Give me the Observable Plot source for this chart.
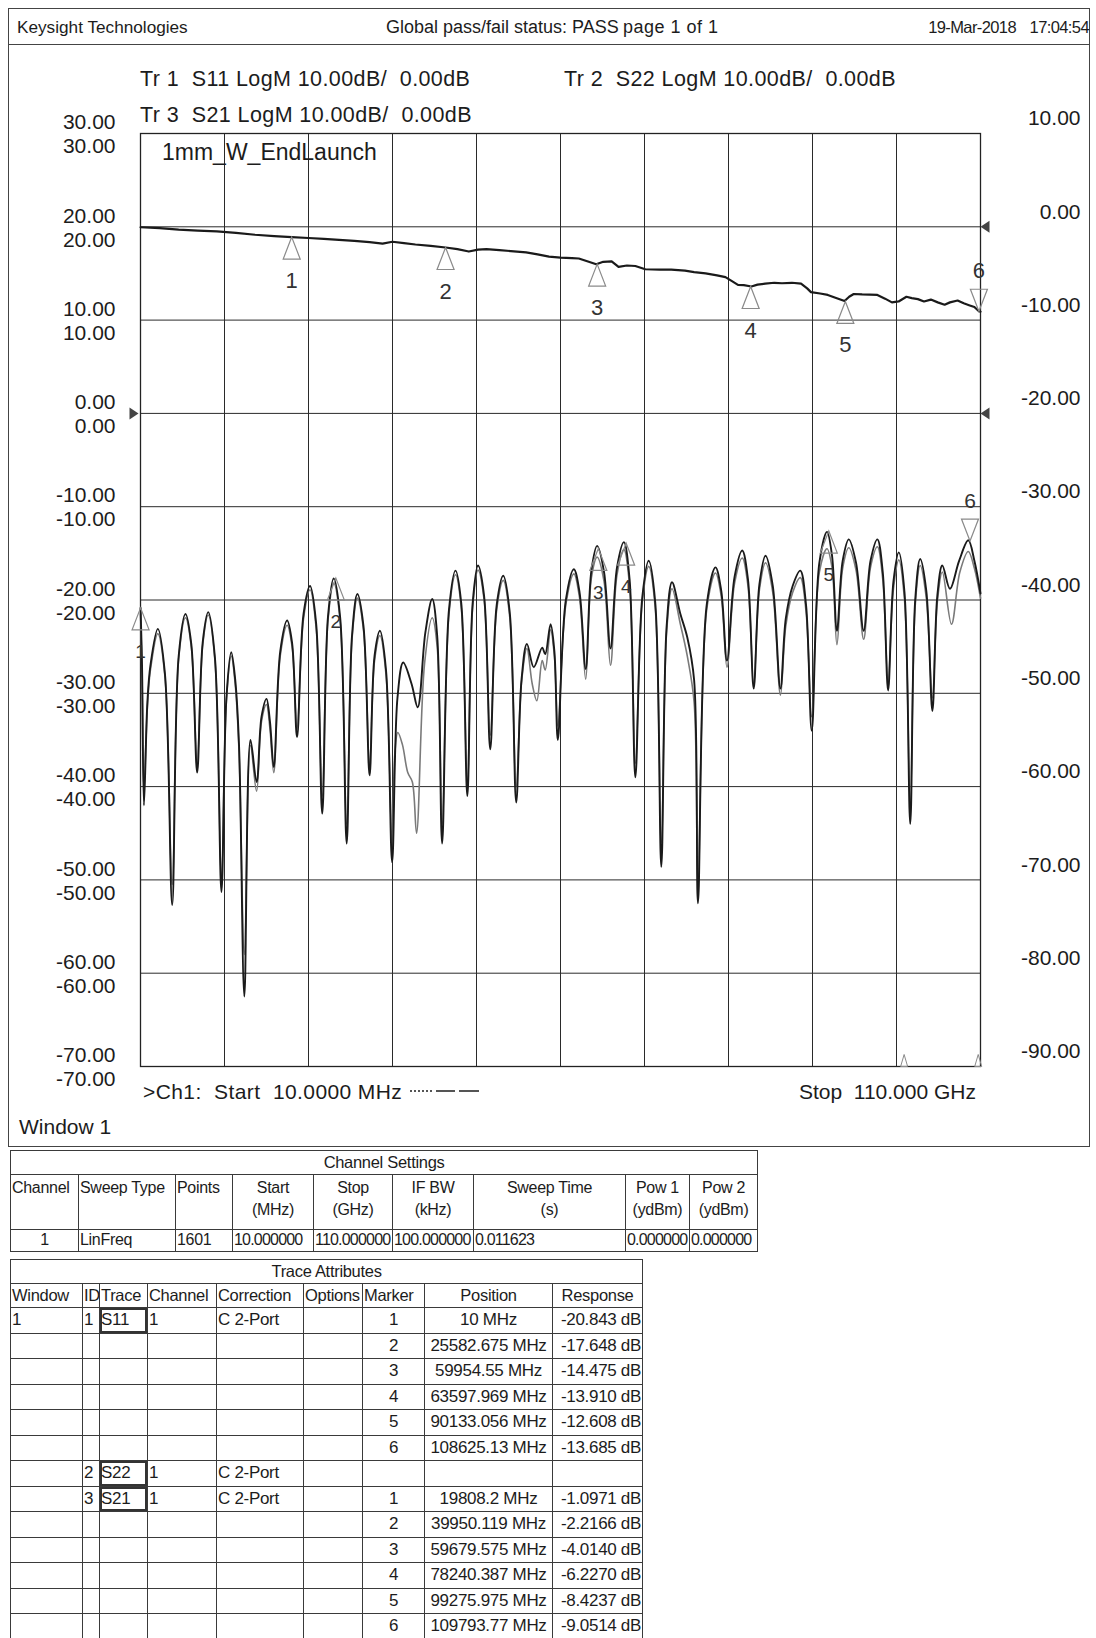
<!DOCTYPE html>
<html><head><meta charset="utf-8">
<script src="https://cdn.jsdelivr.net/npm/d3@7"></script>
<script src="https://cdn.jsdelivr.net/npm/@observablehq/plot@0.6"></script>
<style>
body{margin:0;background:#fff;}
#page{position:relative;width:1096px;height:1638px;overflow:hidden;font-family:"Liberation Sans",Arial,sans-serif;color:#1c1c1c;background:#fff;}
.t{position:absolute;white-space:nowrap;line-height:1;}
table.tb{border-collapse:collapse;table-layout:fixed;position:absolute;font-size:16.5px;color:#1c1c1c;letter-spacing:-0.3px;}
table.tb td{border:1px solid #3a3a3a;padding:0 1px;overflow:hidden;white-space:nowrap;line-height:1.15;}
</style></head><body><div id="page"></div><script>
// ---------------- data ----------------
const leftTicks  = [30, 20, 10, 0, -10, -20, -30, -40, -50, -60, -70];   // Tr1 / Tr2 scale (dB)
const rightTicks = [10, 0, -10, -20, -30, -40, -50, -60, -70, -80, -90];  // Tr3 scale (dB)
const xGrid = [0, 11, 22, 33, 44, 55, 66, 77, 88, 99, 110];               // GHz, 10 divisions

// S11 (GHz, dB)
const s11 = [
[0.01,-20.84],[0.2,-27],[0.45,-42.0],[0.9,-31],[1.3,-27.0],[2.27,-23.1],[3.2,-27.9],[4.15,-52.7],
[5.0,-26.0],[5.89,-21.5],[6.65,-24.7],[7.42,-38.5],[8.15,-24.5],[8.87,-21.3],[9.75,-26.2],[10.6,-51.3],
[11.25,-30.5],[11.88,-25.6],[12.4,-28.5],[12.9,-35.5],[13.6,-62.5],[14.4,-35.0],[15.2,-39.5],[15.85,-32.5],[16.5,-30.6],[16.95,-33.0],[17.45,-37.9],
[18.3,-25.5],[19.2,-22.2],[19.85,-24.6],[20.5,-34.7],[21.35,-21.5],[22.2,-18.5],[23.0,-22.5],[23.8,-42.9],
[24.55,-21.8],[25.3,-17.7],[26.15,-21.9],[27.0,-46.1],[27.7,-23.8],[28.4,-19.35],[29.2,-22.8],[30.0,-38.8],
[30.65,-26.0],[31.35,-23.3],[32.15,-27.5],[32.95,-48.1],[33.65,-30.5],[34.4,-26.7],[35.5,-29.0],[36.3,-31.5],
[37.3,-23.5],[38.2,-19.9],[38.85,-23.8],[39.5,-46.1],[40.4,-21.0],[41.25,-16.85],[42.0,-20.3],[42.8,-41.0],
[43.5,-20.3],[44.2,-16.3],[45.0,-19.6],[45.8,-36.0],[46.65,-20.5],[47.5,-17.4],[48.35,-21.3],[49.2,-41.7],
[49.9,-28.5],[50.6,-24.7],[51.5,-27.2],[52.6,-25.1],[53.0,-25.8],[53.7,-22.6],[54.2,-25.5],[54.65,-35.0],
[55.7,-20.0],[56.75,-16.7],[57.5,-19.2],[58.3,-27.4],[59.05,-16.8],[59.8,-14.2],[60.7,-17.0],[61.55,-25.2],
[62.4,-16.5],[63.3,-13.8],[64.05,-17.8],[64.8,-39.0],[65.7,-19.8],[66.55,-15.8],[67.4,-20.2],[68.2,-48.6],
[68.9,-22.8],[69.6,-18.1],[70.7,-21.5],[71.6,-24.0],[72.5,-28.6],[73.0,-52.5],[74.15,-20.5],[75.3,-16.5],[76.05,-19.0],[76.8,-26.5],
[77.8,-17.5],[78.8,-14.7],[79.55,-17.8],[80.3,-29.5],[81.05,-18.3],[81.85,-15.25],[82.8,-18.5],[83.8,-29.5],
[84.5,-22.0],[85.4,-18.5],[86.4,-16.85],[87.15,-20.5],[87.9,-34.0],[88.9,-16.0],[89.9,-12.7],[90.55,-15.2],[91.2,-23.3],
[91.95,-15.8],[92.75,-13.5],[93.7,-16.0],[94.7,-23.3],[95.6,-15.8],[96.5,-13.5],[97.2,-17.0],[97.9,-29.7],
[98.6,-18.0],[99.3,-14.9],[100.05,-19.2],[100.8,-44.0],[101.45,-20.0],[102.1,-15.6],[102.9,-19.0],[103.7,-31.9],
[104.35,-19.5],[105.0,-16.3],[106.0,-18.8],[107.2,-15.8],[108.4,-13.6],[109.2,-15.8],[110,-19.3]
];

// S22 (GHz, dB) – mostly overlapping S11, lighter trace
const s22 = [
[0.01,-21.5],[0.2,-28],[0.45,-40.5],[0.9,-31.5],[1.3,-27.5],[2.27,-23.6],[3.2,-28.2],[4.15,-50.5],
[5.0,-26.3],[5.89,-21.9],[6.65,-25.0],[7.42,-37.5],[8.15,-24.8],[8.87,-21.6],[9.75,-26.5],[10.6,-49.5],
[11.25,-30.8],[11.88,-26.0],[12.4,-29.0],[12.9,-36.2],[13.6,-58.0],[14.4,-35.6],[15.2,-40.5],[15.85,-33.0],[16.5,-31.2],[16.95,-33.8],[17.45,-38.5],
[18.3,-26.0],[19.2,-22.7],[19.85,-25.0],[20.5,-33.8],[21.35,-22.0],[22.2,-18.9],[23.0,-23.0],[23.8,-41.0],
[24.55,-22.2],[25.3,-18.2],[26.15,-22.3],[27.0,-44.0],[27.7,-24.2],[28.4,-19.8],[29.2,-23.2],[30.0,-37.5],
[30.65,-26.5],[31.35,-23.8],[32.15,-28.0],[32.95,-46.5],[33.3,-36.5],[33.7,-34.2],[34.3,-35.5],[35.0,-38.5],[35.6,-39.5],[36.15,-45.0],
[37.2,-26.8],[38.2,-21.9],[38.85,-25.0],[39.5,-44.0],[40.4,-21.5],[41.25,-17.3],[42.0,-20.8],[42.8,-39.5],
[43.5,-20.8],[44.2,-16.8],[45.0,-20.0],[45.8,-34.5],[46.65,-21.0],[47.5,-17.9],[48.35,-21.8],[49.2,-40.0],
[49.9,-28.8],[50.6,-25.2],[51.3,-29.0],[51.9,-30.8],[52.6,-26.5],[53.0,-27.5],[53.7,-23.2],[54.2,-26.0],[54.65,-33.5],
[55.7,-20.5],[56.75,-17.2],[57.5,-19.8],[58.3,-28.5],[59.05,-17.6],[59.8,-15.4],[60.7,-18.0],[61.55,-27.0],
[62.4,-17.3],[63.3,-14.6],[64.05,-18.5],[64.8,-37.5],[65.7,-20.3],[66.55,-16.4],[67.4,-20.8],[68.2,-46.0],
[68.9,-23.4],[69.6,-18.8],[70.7,-22.6],[71.6,-26.0],[72.5,-31.0],[73.0,-50.5],[74.15,-21.0],[75.3,-17.1],[76.05,-19.6],[76.8,-27.2],
[77.8,-18.2],[78.8,-15.5],[79.55,-18.5],[80.3,-29.0],[81.05,-18.9],[81.85,-16.0],[82.8,-19.2],[83.8,-30.2],
[84.5,-22.8],[85.4,-19.2],[86.4,-17.6],[87.15,-21.2],[87.9,-32.5],[88.9,-17.0],[89.9,-14.5],[90.55,-16.5],[91.2,-24.8],
[91.95,-16.6],[92.75,-14.4],[93.7,-16.8],[94.7,-24.2],[95.6,-16.5],[96.5,-14.3],[97.2,-17.8],[97.9,-28.8],
[98.6,-18.8],[99.3,-15.7],[100.05,-20.0],[100.8,-42.0],[101.45,-20.6],[102.1,-16.3],[102.9,-19.8],[103.7,-30.5],
[104.35,-20.2],[105.0,-17.0],[106.2,-22.6],[107.3,-17.0],[108.4,-14.8],[109.2,-16.6],[110,-19.8]
];

// S21 (GHz, dB) on the right-hand scale
const s21 = [
[0.01,-0.05],[2.5,-0.15],[5,-0.3],[7.5,-0.4],[10,-0.5],[12.5,-0.65],[15,-0.85],[17.5,-1.0],[19.8,-1.1],[22,-1.2],
[24,-1.3],[26,-1.4],[28,-1.5],[30,-1.65],[31.7,-1.8],[33,-1.6],[34.5,-1.75],[36,-1.9],[38,-2.05],[39.95,-2.22],
[41.5,-2.4],[43,-2.65],[44.2,-2.45],[45.3,-2.4],[47,-2.5],[48.5,-2.6],[50.5,-2.75],[52,-2.95],[53.5,-3.2],[55,-3.3],
[56.5,-3.35],[57.4,-3.4],[58.5,-3.7],[59.68,-4.01],[60.6,-3.75],[61.7,-3.7],[62.6,-4.3],[63.7,-4.15],[64.8,-4.2],[66.1,-4.55],
[68,-4.6],[69.5,-4.6],[71.3,-4.7],[72.5,-4.85],[74,-5.0],[75.5,-5.2],[76.6,-5.4],[77.4,-5.8],[78.24,-6.23],[79,-6.25],
[80,-6.4],[80.8,-6.2],[81.8,-6.1],[83,-6.0],[84,-6.05],[85.3,-6.0],[86.5,-6.1],[87.3,-6.6],[87.8,-7.0],[89,-7.15],
[90,-7.3],[91,-7.6],[92.2,-7.95],[92.8,-7.5],[93.4,-7.2],[94.5,-7.25],[96.5,-7.3],[97.5,-7.7],[98.4,-8.1],[99.28,-8.0],
[100.3,-7.5],[101,-7.65],[101.8,-7.75],[102.6,-8.0],[103.5,-7.8],[104.4,-8.1],[105.3,-8.35],[106,-8.1],[107,-7.9],[107.8,-8.2],
[108.5,-8.4],[109.2,-8.6],[109.79,-9.05],[110,-9.1]
];

// marker table (as printed)
const s11MarkerPos  = ["10 MHz","25582.675 MHz","59954.55 MHz","63597.969 MHz","90133.056 MHz","108625.13 MHz"];
const s11MarkerResp = ["-20.843 dB","-17.648 dB","-14.475 dB","-13.910 dB","-12.608 dB","-13.685 dB"];
const s21MarkerPos  = ["19808.2 MHz","39950.119 MHz","59679.575 MHz","78240.387 MHz","99275.975 MHz","109793.77 MHz"];
const s21MarkerResp = ["-1.0971 dB","-2.2166 dB","-4.0140 dB","-6.2270 dB","-8.4237 dB","-9.0514 dB"];
// where the S21 marker glyphs are drawn on the screen (GHz, dB)
const s21MarkerShown = [[19.8,-1.1],[39.95,-2.22],[59.8,-4.0],[79.9,-6.4],[92.3,-8.0],[109.79,-9.05]];
const bottomMarks = [100.0, 109.7];   // small indicators on the bottom line (GHz)

const chHeaders = ["Channel","Sweep Type","Points","Start<br>(MHz)","Stop<br>(GHz)","IF BW<br>(kHz)","Sweep Time<br>(s)","Pow 1<br>(ydBm)","Pow 2<br>(ydBm)"];
const chValues  = ["1","LinFreq","1601","10.000000","110.000000","100.000000","0.011623","0.000000","0.000000"];
const taHeaders = ["Window","ID","Trace","Channel","Correction","Options","Marker","Position","Response"];

// ---------------- helpers ----------------
const page = document.getElementById("page");
function addText(str, left, cy, fs, extra = {}) {
  const d = document.createElement("div");
  d.className = "t";
  d.innerHTML = str;
  d.style.fontSize = fs + "px";
  d.style.top = (cy - 0.49 * fs) + "px";
  if (extra.right != null) d.style.right = extra.right + "px"; else d.style.left = left + "px";
  Object.assign(d.style, extra.style || {});
  page.appendChild(d);
  return d;
}
function addBox(l, t, w, h, css) {
  const d = document.createElement("div");
  d.style.position = "absolute";
  d.style.left = l + "px"; d.style.top = t + "px";
  d.style.width = w + "px"; d.style.height = h + "px";
  d.style.boxSizing = "border-box";
  Object.assign(d.style, css);
  page.appendChild(d);
  return d;
}

const S21_OFFSET = leftTicks[0] - rightTicks[0];
const s11Markers = s11MarkerPos.map((p, i) => ({n: i + 1, f: parseFloat(p) / 1000, db: parseFloat(s11MarkerResp[i])}));
const s21Markers = s21MarkerShown.map((d, i) => ({n: i + 1, f: d[0], yv: d[1] + S21_OFFSET}));

// custom marker glyphs (size-independent)
const triUp   = {draw(c) { c.moveTo(0, 0); c.lineTo(-8.5, 22); c.lineTo(8.5, 22); c.closePath(); }};
const triDown = {draw(c) { c.moveTo(0, 0); c.lineTo(-8.5, -22); c.lineTo(8.5, -22); c.closePath(); }};
const triSmall= {draw(c) { c.moveTo(0, -12); c.lineTo(-3.5, 0); c.lineTo(3.5, 0); c.closePath(); }};
const arrowR  = {draw(c) { c.moveTo(-2, 0); c.lineTo(-11, -6); c.lineTo(-11, 6); c.closePath(); }};
const arrowL  = {draw(c) { c.moveTo(0, 0); c.lineTo(9, -6); c.lineTo(9, 6); c.closePath(); }};

// ---------------- frame / header ----------------
addBox(8, 8, 1082, 37, {border: "1px solid #444"});
addBox(8, 44, 1082, 1103, {borderLeft: "1px solid #444", borderRight: "1px solid #444", borderBottom: "1px solid #444"});
addText("Keysight Technologies", 17, 27, 17.2);
addText("Global pass/fail status: PASS", 386, 27, 18);
addText("page 1 of 1", 623, 27, 18, {style: {letterSpacing: "0.5px"}});
addText("19-Mar-2018", 0, 27, 16.5, {right: 80, style: {letterSpacing: "-0.6px"}});
addText("17:04:54", 0, 27, 16.5, {right: 7, style: {letterSpacing: "-0.6px"}});

// ---------------- plot ----------------
const txt = "#1c1c1c";
const chart = Plot.plot({
  width: 1096, height: 1150,
  marginLeft: 140, marginRight: 116, marginTop: 133, marginBottom: 84,
  x: {domain: [0, 110], axis: null},
  y: {domain: [-70, 30], axis: null},
  style: {fontFamily: '"Liberation Sans", Arial, sans-serif', background: "transparent", overflow: "visible"},
  marks: [
    Plot.ruleX(xGrid, {x: d => d, stroke: "#2a2a2a", strokeWidth: 1}),
    Plot.ruleY(leftTicks, {y: d => d, stroke: "#2a2a2a", strokeWidth: 1}),
    Plot.frame({stroke: "#222", strokeWidth: 1.3}),
    Plot.line(s22, {x: d => d[0], y: d => d[1], stroke: "#7a7a7a", strokeWidth: 1.6, curve: "catmull-rom"}),
    Plot.line(s11, {x: d => d[0], y: d => d[1], stroke: "#1a1a1a", strokeWidth: 1.9, curve: "catmull-rom"}),
    Plot.line(s21, {x: d => d[0], y: d => d[1] + S21_OFFSET, stroke: "#1a1a1a", strokeWidth: 2.2}),
    // axis labels
    Plot.text(leftTicks, {x: () => 0, y: d => d, text: d => d.toFixed(2), textAnchor: "end", dx: -25, dy: -11, fontSize: 21, fill: txt}),
    Plot.text(leftTicks, {x: () => 0, y: d => d, text: d => d.toFixed(2), textAnchor: "end", dx: -25, dy: 13, fontSize: 21, fill: txt}),
    Plot.text(rightTicks, {x: () => 110, y: d => d + S21_OFFSET, text: d => d.toFixed(2), textAnchor: "end", dx: 100, dy: -15, fontSize: 21, fill: txt}),
    // reference level arrows
    Plot.dot([0], {x: () => 0, y: d => d, symbol: arrowR, fill: "#444", stroke: "none"}),
    Plot.dot([rightTicks[1] + S21_OFFSET, 0], {x: () => 110, y: d => d, symbol: arrowL, fill: "#444", stroke: "none"}),
    // S11 markers
    Plot.dot(s11Markers.filter(d => d.n < 6), {x: "f", y: "db", symbol: triUp, fill: "none", stroke: "#8a8a8a", strokeWidth: 1.2}),
    Plot.dot(s11Markers.filter(d => d.n === 6), {x: "f", y: "db", symbol: triDown, fill: "none", stroke: "#8a8a8a", strokeWidth: 1.2}),
    Plot.text(s11Markers.filter(d => d.n < 6), {x: "f", y: "db", text: d => String(d.n), dy: 44, fontSize: 19, fill: "#333"}),
    Plot.text(s11Markers.filter(d => d.n === 6), {x: "f", y: "db", text: d => String(d.n), dy: -40, fontSize: 21, fill: "#333"}),
    // S21 markers
    Plot.dot(s21Markers.filter(d => d.n < 6), {x: "f", y: "yv", symbol: triUp, fill: "none", stroke: "#8a8a8a", strokeWidth: 1.2}),
    Plot.dot(s21Markers.filter(d => d.n === 6), {x: "f", y: "yv", symbol: triDown, fill: "none", stroke: "#8a8a8a", strokeWidth: 1.2}),
    Plot.text(s21Markers.filter(d => d.n < 6), {x: "f", y: "yv", text: d => String(d.n), dy: 44, fontSize: 22, fill: "#333"}),
    Plot.text(s21Markers.filter(d => d.n === 6), {x: "f", y: "yv", text: d => String(d.n), dy: -40, fontSize: 22, fill: "#333"}),
    // bottom indicators
    Plot.dot(bottomMarks, {x: d => d, y: () => -70, symbol: triSmall, fill: "none", stroke: "#8a8a8a", strokeWidth: 1})
  ]
});
chart.style.position = "absolute";
chart.style.left = "0px";
chart.style.top = "0px";
page.appendChild(chart);

// ---------------- texts around the plot ----------------
const trStyle = {style: {letterSpacing: "0.4px"}};
addText("Tr 1&nbsp; S11 LogM 10.00dB/&nbsp; 0.00dB", 140, 80, 21.5, trStyle);
addText("Tr 2&nbsp; S22 LogM 10.00dB/&nbsp; 0.00dB", 564, 80, 21.5, trStyle);
addText("Tr 3&nbsp; S21 LogM 10.00dB/&nbsp; 0.00dB", 140, 116, 21.5, trStyle);
addText("1mm_W_EndLaunch", 162, 152, 23);
addText("&gt;Ch1:&nbsp; Start&nbsp; 10.0000 MHz", 143, 1091, 21, {style: {letterSpacing: "0.4px"}});
addBox(410, 1090, 22, 2, {borderTop: "2px dotted #555"});
addBox(436, 1090, 19, 2, {background: "#555"});
addBox(459, 1090, 20, 2, {background: "#555"});
addText("Stop&nbsp; 110.000 GHz", 0, 1091, 21, {right: 120});
addText("Window 1", 19, 1126, 21);

// ---------------- tables ----------------
function makeTable(left, top, widths) {
  const t = document.createElement("table");
  t.className = "tb";
  t.style.left = left + "px"; t.style.top = top + "px";
  t.style.width = widths.reduce((a, b) => a + b, 0) + "px";
  const cg = document.createElement("colgroup");
  widths.forEach(w => { const c = document.createElement("col"); c.style.width = w + "px"; cg.appendChild(c); });
  t.appendChild(cg);
  page.appendChild(t);
  return t;
}
function addRow(t, h, cells) {
  const tr = document.createElement("tr");
  tr.style.height = h + "px";
  cells.forEach(c => {
    const td = document.createElement("td");
    td.innerHTML = c.html;
    if (c.colspan) td.colSpan = c.colspan;
    td.style.textAlign = c.align || "left";
    td.style.verticalAlign = c.valign || "middle";
    if (c.css) Object.assign(td.style, c.css);
    tr.appendChild(td);
  });
  t.appendChild(tr);
}

// Channel Settings
const chT = makeTable(10, 1150, [68, 97, 57, 81, 79, 81, 152, 64, 68]);
addRow(chT, 24, [{html: "Channel Settings", colspan: 9, align: "center"}]);
addRow(chT, 55, chHeaders.map((h, i) => ({html: h, align: i < 3 ? "left" : "center", valign: "top",
  css: {lineHeight: "1.38", paddingTop: "2px", fontSize: "16px"}})));
addRow(chT, 22, chValues.map((v, i) => ({html: v, align: i === 0 ? "center" : "left",
  css: {fontSize: "16px", letterSpacing: i > 2 ? "-0.8px" : "-0.3px"}})));

// Trace Attributes
const taT = makeTable(10, 1259, [72, 17, 48, 69, 87, 59, 62, 128, 90]);
addRow(taT, 24, [{html: "Trace Attributes", colspan: 9, align: "center"}]);
addRow(taT, 24, taHeaders.map((h, i) => ({html: h, align: i < 7 ? "left" : "center"})));
const boxed = {boxShadow: "inset 0 0 0 2px #333"};
const traceRows = [];
s11MarkerPos.forEach((p, i) => traceRows.push([i === 0 ? "1" : "", i === 0 ? "1" : "", i === 0 ? "S11" : "", i === 0 ? "1" : "", i === 0 ? "C 2-Port" : "", "", String(i + 1), p, s11MarkerResp[i]]));
traceRows.push(["", "2", "S22", "1", "C 2-Port", "", "", "", ""]);
s21MarkerPos.forEach((p, i) => traceRows.push(["", i === 0 ? "3" : "", i === 0 ? "S21" : "", i === 0 ? "1" : "", i === 0 ? "C 2-Port" : "", "", String(i + 1), p, s21MarkerResp[i]]));
traceRows.forEach(r => addRow(taT, 25.5, r.map((v, i) => ({
  html: v,
  align: i === 6 || i === 7 ? "center" : (i === 8 ? "right" : "left"),
  css: Object.assign({fontSize: "17px"}, (i === 2 && v) ? boxed : {})
}))));
</script></body></html>
